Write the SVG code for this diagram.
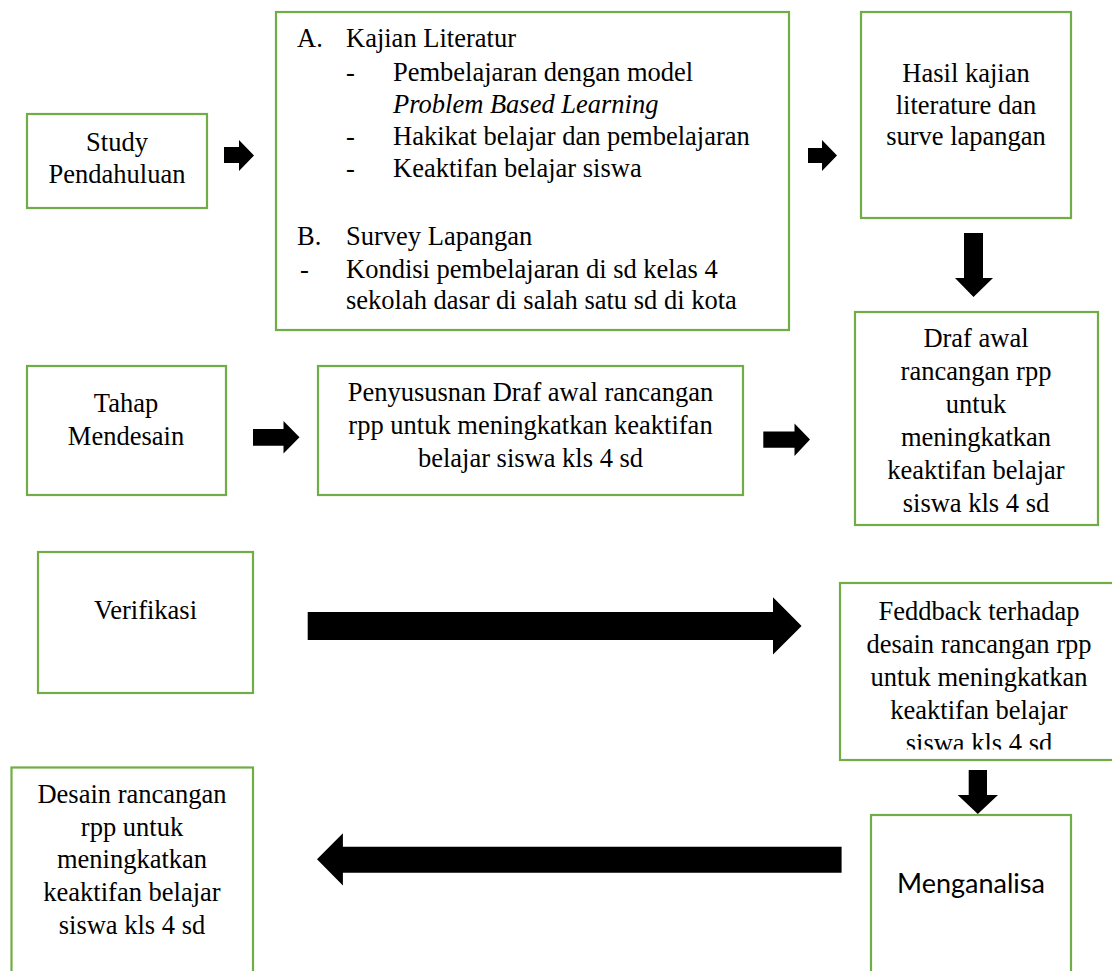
<svg xmlns="http://www.w3.org/2000/svg" width="1112" height="971" viewBox="0 0 1112 971">
<style>
.box{fill:#fff;stroke:#70AD47;stroke-width:2.2}
.t{font-family:"Liberation Serif","Times New Roman",serif;font-size:26.5px;fill:#000}
.c{text-anchor:middle}
.s{font-family:Lato,"Open Sans",sans-serif;font-size:27px;fill:#000;text-anchor:middle}
.arr{fill:#000}
</style>
<defs>
<clipPath id="fbclip"><rect x="840" y="583" width="280" height="166.5"/></clipPath>
</defs>
<rect width="1112" height="971" fill="#fff"/>
<g id="study">
<rect class="box" x="27" y="114" width="180" height="94"/>
<text class="t c" x="117" y="151">Study</text>
<text class="t c" x="117" y="183">Pendahuluan</text>
</g>
<g id="kajian">
<rect class="box" x="276" y="12" width="513" height="318"/>
<text class="t" x="297" y="47">A.</text>
<text class="t" x="346" y="47">Kajian Literatur</text>
<text class="t" x="346" y="81">-</text>
<text class="t" x="393" y="81">Pembelajaran dengan model</text>
<text class="t" x="393" y="113" font-style="italic">Problem Based Learning</text>
<text class="t" x="346" y="145">-</text>
<text class="t" x="393" y="145">Hakikat belajar dan pembelajaran</text>
<text class="t" x="346" y="177">-</text>
<text class="t" x="393" y="177">Keaktifan belajar siswa</text>
<text class="t" x="297" y="245">B.</text>
<text class="t" x="346" y="245">Survey Lapangan</text>
<text class="t" x="300" y="278">-</text>
<text class="t" x="346" y="278">Kondisi pembelajaran di sd kelas 4</text>
<text class="t" x="346" y="309">sekolah dasar di salah satu sd di kota</text>
</g>
<g id="hasil">
<rect class="box" x="861" y="12" width="210" height="206"/>
<text class="t c" x="966" y="82">Hasil kajian</text>
<text class="t c" x="966" y="113.5">literature dan</text>
<text class="t c" x="966" y="145">surve lapangan</text>
</g>
<g id="draf">
<rect class="box" x="855" y="312" width="243" height="213"/>
<text class="t c" x="976" y="347">Draf awal</text>
<text class="t c" x="976" y="380">rancangan rpp</text>
<text class="t c" x="976" y="413">untuk</text>
<text class="t c" x="976" y="446">meningkatkan</text>
<text class="t c" x="976" y="479">keaktifan belajar</text>
<text class="t c" x="976" y="512">siswa kls 4 sd</text>
</g>
<g id="tahap">
<rect class="box" x="27" y="366" width="199" height="129"/>
<text class="t c" x="126" y="412">Tahap</text>
<text class="t c" x="126" y="445">Mendesain</text>
</g>
<g id="penyusunan">
<rect class="box" x="318" y="366" width="425" height="129"/>
<text class="t c" x="530.5" y="401">Penyususnan Draf awal rancangan</text>
<text class="t c" x="530.5" y="434">rpp untuk meningkatkan keaktifan</text>
<text class="t c" x="530.5" y="467">belajar siswa kls 4 sd</text>
</g>
<g id="verifikasi">
<rect class="box" x="38" y="552" width="215" height="141"/>
<text class="t c" x="145.5" y="619">Verifikasi</text>
</g>
<g id="feedback">
<rect class="box" x="840" y="583" width="280" height="177"/>
<g clip-path="url(#fbclip)">
<text class="t c" x="979" y="620">Feddback terhadap</text>
<text class="t c" x="979" y="653">desain rancangan rpp</text>
<text class="t c" x="979" y="686">untuk meningkatkan</text>
<text class="t c" x="979" y="719">keaktifan belajar</text>
<text class="t c" x="979" y="752">siswa kls 4 sd</text>
</g>
</g>
<g id="desain">
<rect class="box" x="11.5" y="767.5" width="241.5" height="210"/>
<text class="t c" x="132" y="803">Desain rancangan</text>
<text class="t c" x="132" y="836">rpp untuk</text>
<text class="t c" x="132" y="868">meningkatkan</text>
<text class="t c" x="132" y="901">keaktifan belajar</text>
<text class="t c" x="132" y="934">siswa kls 4 sd</text>
</g>
<g id="menganalisa">
<rect class="box" x="871" y="815" width="200" height="165"/>
<text class="s" x="971" y="893">Menganalisa</text>
</g>
<g id="connectors">
<polygon class="arr" points="224,147 239,147 239,140 254,155.5 239,171 239,163 224,163"/>
<polygon class="arr" points="808,148 822,148 822,140 837,155.5 822,171 822,163 808,163"/>
<polygon class="arr" points="964,233 983,233 983,278 993,278 973.5,297 955,278 964,278"/>
<polygon class="arr" points="253,429 283.5,429 283.5,421 299.5,437.3 283.5,453.5 283.5,445.7 253,445.7"/>
<polygon class="arr" points="763.3,431.5 794.5,431.5 794.5,423.5 810,439.5 794.5,456 794.5,447.7 763.3,447.7"/>
<polygon class="arr" points="307.7,612 773,612 773,597.3 801.6,626 773,654.5 773,640 307.7,640"/>
<polygon class="arr" points="968.7,770 987,770 987,795 998,795 977.8,814 957.7,795 968.7,795"/>
<polygon class="arr" points="841.6,846.7 342.9,846.7 342.9,833.3 317,859.3 342.9,885.5 342.9,872.7 841.6,872.7"/>
</g>
</svg>
